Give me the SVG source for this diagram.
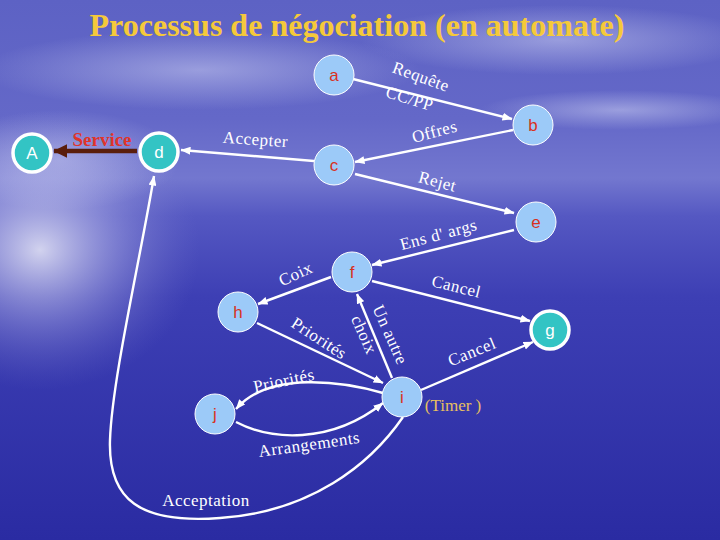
<svg xmlns="http://www.w3.org/2000/svg" width="720" height="540" viewBox="0 0 720 540">
<defs>
<linearGradient id="bg" x1="0" y1="0" x2="0" y2="1">
<stop offset="0" stop-color="#5d62c4"/>
<stop offset="0.22" stop-color="#6468c8"/>
<stop offset="0.33" stop-color="#7377cf"/>
<stop offset="0.40" stop-color="#5558c2"/>
<stop offset="0.55" stop-color="#3d3fb4"/>
<stop offset="1" stop-color="#2a2ba2"/>
</linearGradient>
<radialGradient id="glow" cx="0.5" cy="0.5" r="0.5">
<stop offset="0" stop-color="#ffffff" stop-opacity="0.75"/>
<stop offset="0.5" stop-color="#c8c8f0" stop-opacity="0.35"/>
<stop offset="1" stop-color="#8080d0" stop-opacity="0"/>
</radialGradient>
<radialGradient id="cloud" cx="0.5" cy="0.5" r="0.5">
<stop offset="0" stop-color="#c8cbf0" stop-opacity="0.55"/>
<stop offset="1" stop-color="#c8cbf0" stop-opacity="0"/>
</radialGradient>
<marker id="ah" viewBox="0 0 10 8" refX="9.5" refY="4" markerWidth="10" markerHeight="8" markerUnits="userSpaceOnUse" orient="auto">
<path d="M0,0 L10,4 L0,8 Z" fill="#ffffff"/>
</marker>
<marker id="ahb" viewBox="0 0 10 10" refX="9.5" refY="5" markerWidth="14" markerHeight="14" markerUnits="userSpaceOnUse" orient="auto">
<path d="M0,0 L10,5 L0,10 Z" fill="#5a1e0c"/>
</marker>
<style>
.edge{fill:none;stroke:#ffffff;stroke-width:2.4;marker-end:url(#ah)}
.lbl{font-family:"Liberation Serif","Times New Roman",serif;font-size:17px;fill:#ffffff;text-anchor:middle;letter-spacing:0.5px}
.n1 circle{fill:#9ccaf8;stroke:#ffffff;stroke-width:1}
.n2 circle{fill:#33c4c4;stroke:#ffffff;stroke-width:3.5}
.n1 text{font-family:"Liberation Sans",Arial,sans-serif;font-size:17px;fill:#d8321e;text-anchor:middle}
.n2 text{font-family:"Liberation Sans",Arial,sans-serif;font-size:17px;fill:#ffffff;text-anchor:middle}
</style>
</defs>
<rect width="720" height="540" fill="url(#bg)"/>
<ellipse cx="200" cy="70" rx="220" ry="40" fill="url(#cloud)"/>
<ellipse cx="560" cy="40" rx="200" ry="35" fill="url(#cloud)"/>
<ellipse cx="620" cy="110" rx="140" ry="20" fill="url(#cloud)"/>
<ellipse cx="60" cy="160" rx="120" ry="50" fill="url(#cloud)"/>
<ellipse cx="40" cy="250" rx="160" ry="140" fill="url(#glow)"/>

<text x="357" y="36" font-family="Liberation Serif,'Times New Roman',serif" font-weight="bold" font-size="31" fill="#f5c93a" text-anchor="middle" textLength="535" lengthAdjust="spacingAndGlyphs">Processus de négociation (en automate)</text>

<g id="connectors">
<line class="edge" x1="353" y1="79" x2="512" y2="119"/>
<line class="edge" x1="513" y1="130" x2="355" y2="162"/>
<line class="edge" x1="314" y1="161" x2="181" y2="150"/>
<line x1="137" y1="151" x2="54" y2="151" stroke="#5a1e0c" stroke-width="4.5" marker-end="url(#ahb)"/>
<line class="edge" x1="355" y1="174" x2="514" y2="213"/>
<line class="edge" x1="514" y1="230" x2="372" y2="265"/>
<line class="edge" x1="331" y1="277" x2="258" y2="304"/>
<line class="edge" x1="372" y1="281" x2="530" y2="321"/>
<line class="edge" x1="257" y1="323" x2="383" y2="383"/>
<line class="edge" x1="392" y1="378" x2="357" y2="294"/>
<line class="edge" x1="421" y1="390" x2="533" y2="342"/>
<path class="edge" d="M383,393 C345,382 270,370 236,409"/>
<path class="edge" d="M236,422 C270,440 330,445 383,403"/>
<path class="edge" d="M403,417 C370,465 310,512 220,518 C140,524 108,500 110,440 C112,380 140,260 154,176"/>
</g>

<g id="edge-labels">
<text class="lbl" transform="translate(419,82) rotate(20)" letter-spacing="1.5">Requête</text>
<text class="lbl" transform="translate(408,104) rotate(17)">CC/PP</text>
<text class="lbl" transform="translate(436,137) rotate(-15)" letter-spacing="1.5">Offres</text>
<text class="lbl" transform="translate(255,145) rotate(4)" letter-spacing="1">Accepter</text>
<text x="102" y="146" font-family="Liberation Serif,'Times New Roman',serif" font-weight="bold" font-size="19" fill="#e0342a" text-anchor="middle">Service</text>
<text class="lbl" transform="translate(436,187) rotate(15)" letter-spacing="1.5">Rejet</text>
<text class="lbl" transform="translate(440,240) rotate(-15)" letter-spacing="1">Ens d' args</text>
<text class="lbl" transform="translate(298,279) rotate(-25)" letter-spacing="1">Coix</text>
<text class="lbl" transform="translate(455,292) rotate(14)" letter-spacing="1">Cancel</text>
<text class="lbl" transform="translate(316,343) rotate(33)" letter-spacing="1">Priorités</text>
<text class="lbl" transform="translate(385,337) rotate(66)" letter-spacing="1">Un autre</text>
<text class="lbl" transform="translate(359,337) rotate(66)">choix</text>
<text class="lbl" transform="translate(474,357) rotate(-22)" letter-spacing="1">Cancel</text>
<text class="lbl" transform="translate(285,386) rotate(-12)" letter-spacing="0.5">Priorités</text>
<text class="lbl" transform="translate(310,450) rotate(-8)" letter-spacing="0.5">Arrangements</text>
<text x="453" y="411" font-family="Liberation Serif,'Times New Roman',serif" font-size="17" fill="#e8c060" text-anchor="middle">(Timer )</text>
<text class="lbl" x="206" y="506">Acceptation</text>
</g>

<g id="node-a" class="n1"><circle cx="334" cy="75" r="20"/><text x="334" y="81">a</text></g>
<g id="node-b" class="n1"><circle cx="533" cy="125" r="20"/><text x="533" y="131">b</text></g>
<g id="node-c" class="n1"><circle cx="334" cy="165" r="20"/><text x="334" y="171">c</text></g>
<g id="node-e" class="n1"><circle cx="536" cy="222" r="20"/><text x="536" y="228">e</text></g>
<g id="node-f" class="n1"><circle cx="352" cy="272" r="20"/><text x="352" y="278">f</text></g>
<g id="node-h" class="n1"><circle cx="238" cy="312" r="20"/><text x="238" y="318">h</text></g>
<g id="node-i" class="n1"><circle cx="402" cy="397" r="20"/><text x="402" y="403">i</text></g>
<g id="node-j" class="n1"><circle cx="215" cy="414" r="20"/><text x="215" y="420">j</text></g>
<g id="node-A" class="n2"><circle cx="32" cy="153" r="19"/><text x="32" y="159">A</text></g>
<g id="node-d" class="n2"><circle cx="159" cy="152" r="19"/><text x="159" y="158">d</text></g>
<g id="node-g" class="n2"><circle cx="550" cy="330" r="19"/><text x="550" y="336">g</text></g>
</svg>
